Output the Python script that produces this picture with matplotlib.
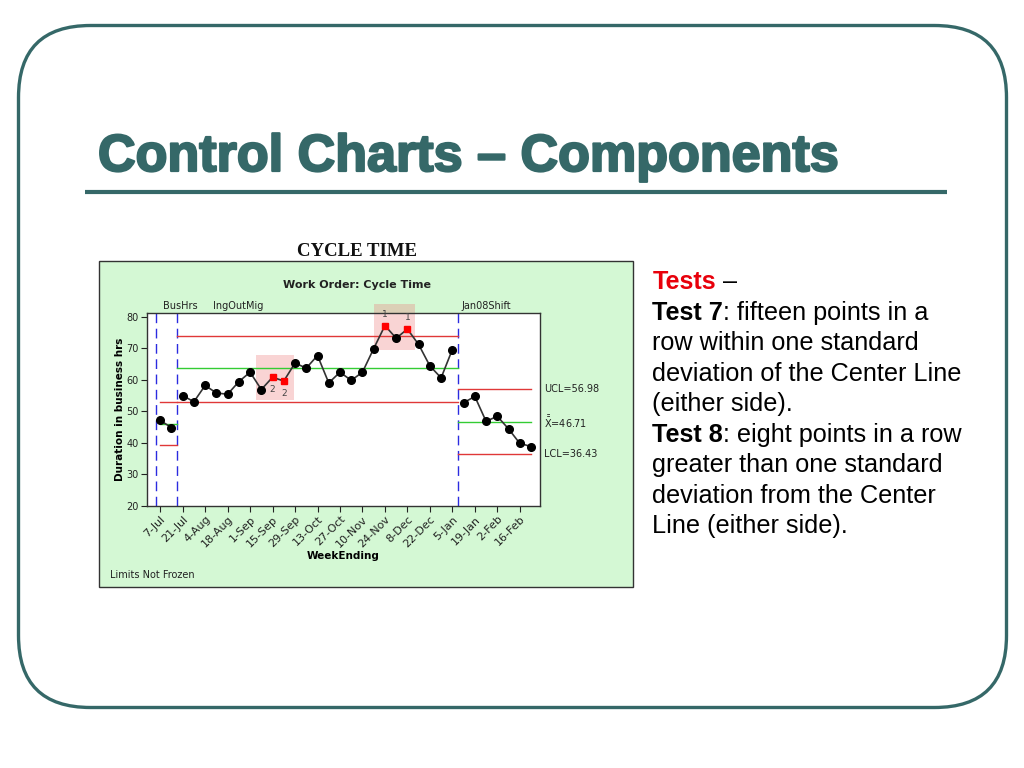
import matplotlib
matplotlib.use('Agg')
import matplotlib.pyplot as plt
import matplotlib.patheffects as pe
from matplotlib.patches import FancyBboxPatch, Rectangle

# ---- data ----
week_labels = ['7-Jul', '21-Jul', '4-Aug', '18-Aug', '1-Sep', '15-Sep', '29-Sep',
               '13-Oct', '27-Oct', '10-Nov', '24-Nov', '8-Dec', '22-Dec', '5-Jan',
               '19-Jan', '2-Feb', '16-Feb']
cycle_time = [47.1, 44.8, 55.0, 53.0, 58.2, 55.8, 55.4, 59.4, 62.4, 56.9, 60.8, 59.6,
              65.3, 63.7, 67.7, 59.0, 62.4, 59.8, 62.4, 69.9, 77.2, 73.2, 76.1, 71.2,
              64.4, 60.6, 69.6, 52.7, 54.7, 46.8, 48.4, 44.4, 39.8, 38.8]
# points flagged by a test, and the test number
flag_index = [10, 11, 20, 22]
flag_test = ['2', '2', '1', '1']

# stages: first/last point index, limits
stage_names = ['BusHrs', 'IngOutMig', 'Jan08Shift']
stage_first = [0, 2, 27]
stage_last = [1, 26, 33]
stage_ucl = [52.8, 73.8, 56.98]
stage_cl = [46.0, 63.6, 46.71]
stage_lcl = [39.2, 52.8, 36.43]

teal = '#356868'
chart_green = '#d4f8d4'

fig = plt.figure(figsize=(10.24, 7.68), dpi=100)

# background axes in pixel coordinates for the slide decoration
bg = fig.add_axes([0, 0, 1, 1])
bg.set_xlim(0, 1024)
bg.set_ylim(768, 0)
bg.axis('off')

bg.add_patch(FancyBboxPatch((18.5, 25.5), 988, 682, boxstyle='round,pad=0,rounding_size=72',
                            fill=False, ec=teal, lw=2.4))
bg.text(98, 171, 'Control Charts \u2013 Components', fontsize=37.5, fontweight='bold',
        color=teal, family='Liberation Sans', va='baseline', ha='left',
        path_effects=[pe.withStroke(linewidth=1.6, foreground=teal)])
bg.plot([85, 947], [191.5, 191.5], color=teal, lw=3, solid_capstyle='butt')

# chart image area
bg.text(357, 256.5, 'CYCLE TIME', fontsize=13.5, fontweight='bold', family='Liberation Serif',
        ha='center', va='baseline', color='#111111')
bg.add_patch(Rectangle((98.5, 260.5), 534.5, 326.5, fc=chart_green, ec='#333333', lw=1))
bg.text(357, 285, 'Work Order: Cycle Time', fontsize=8, fontweight='bold', ha='center',
        va='center', color='#222222')
bg.text(110, 575, 'Limits Not Frozen', fontsize=7, ha='left', va='center', color='#222222')

# right hand text
renderer = fig.canvas.get_renderer()
text_lines = [
    [('Tests', 'bold', '#e8000b'), (' \u2013', 'normal', 'black')],
    [('Test 7', 'bold', 'black'), (': fifteen points in a', 'normal', 'black')],
    [('row within one standard', 'normal', 'black')],
    [('deviation of the Center Line', 'normal', 'black')],
    [('(either side).', 'normal', 'black')],
    [('Test 8', 'bold', 'black'), (': eight points in a row', 'normal', 'black')],
    [('greater than one standard', 'normal', 'black')],
    [('deviation from the Center', 'normal', 'black')],
    [('Line (either side).', 'normal', 'black')],
]
y0 = 289.3
for i, parts in enumerate(text_lines):
    x = 652.5
    for s, w, c in parts:
        t = bg.text(x, y0 + i * 30.5, s, fontsize=18.2, fontweight=w, color=c,
                    family='Liberation Sans', va='baseline', ha='left')
        x += t.get_window_extent(renderer).width

# ---- the control chart ----
ax = fig.add_axes([146.7 / 1024, 1 - 505.7 / 768, 393.3 / 1024, 193 / 768])
ax.set_facecolor('white')
ax.set_zorder(2)

idx = list(range(len(cycle_time)))
ax.set_xlim(-1.2, 33.8)
ax.set_ylim(20, 81.3)

# stage boundaries
bounds = [-0.4, 1.5, 26.5]
for b in bounds:
    ax.axvline(b, color='#2b2be0', lw=1, dashes=(7, 4))

for k in range(len(stage_names)):
    x_start = bounds[k] if k > 0 else stage_first[k]
    x_end = bounds[k + 1] if k + 1 < len(bounds) else stage_last[k]
    ax.plot([x_start, x_end], [stage_ucl[k], stage_ucl[k]], color='#e03838', lw=1)
    ax.plot([x_start, x_end], [stage_lcl[k], stage_lcl[k]], color='#e03838', lw=1)
    ax.plot([x_start, x_end], [stage_cl[k], stage_cl[k]], color='#33cc33', lw=1)

# shaded test regions
ax.add_patch(Rectangle((8.5, 53.5), 3.4, 14.5, fc=(0.93, 0.45, 0.45), alpha=0.3, lw=0, zorder=1))
ax.add_patch(Rectangle((19.0, 69.6), 3.65, 14.4, fc=(0.93, 0.45, 0.45), alpha=0.3, lw=0,
                       zorder=1, clip_on=False))

# data, drawn per stage
for k in range(len(stage_names)):
    xs = idx[stage_first[k]:stage_last[k] + 1]
    ys = cycle_time[stage_first[k]:stage_last[k] + 1]
    ax.plot(xs, ys, color='#333333', lw=1.2, zorder=3)
    px = [i for i in xs if i not in flag_index]
    py = [cycle_time[i] for i in px]
    ax.plot(px, py, ls='none', marker='o', ms=5.5, mfc='black', mec='black', zorder=4)

for i, lab in zip(flag_index, flag_test):
    ax.plot(i, cycle_time[i], marker='s', ms=5, color='#ff0000', zorder=4)
    off = -9 if lab == '2' else 8
    ax.annotate(lab, xy=(i, cycle_time[i]), xytext=(0, off), textcoords='offset points',
                ha='center', va='center', fontsize=6.5, color='#444444')

# stage names above
for name, xpos in zip(stage_names, [0.25, 4.7, 26.8]):
    ax.annotate(name, xy=(xpos, 1), xycoords=('data', 'axes fraction'), xytext=(0, 1),
                textcoords='offset points', ha='left', va='bottom', fontsize=7, color='#222222')

# limit labels on the right
for lab, val in zip(['UCL=56.98', r'$\bar{\bar{\mathrm{X}}}$=46.71', 'LCL=36.43'],
                    [stage_ucl[2], stage_cl[2], stage_lcl[2]]):
    ax.annotate(lab, xy=(1, val), xycoords=('axes fraction', 'data'), xytext=(3, 0),
                textcoords='offset points', ha='left', va='center', fontsize=7, color='#222222')

ax.set_yticks([20, 30, 40, 50, 60, 70, 80])
ax.set_xticks(list(range(0, 33, 2)))
ax.set_xticklabels(week_labels, rotation=45, ha='right', rotation_mode='anchor')
ax.tick_params(axis='y', labelsize=7)
ax.tick_params(axis='x', labelsize=8)
ax.tick_params(colors='#222222', length=4, width=0.8, pad=2)
for s in ax.spines.values():
    s.set_color('#333333')
    s.set_linewidth(1)

ax.set_ylabel('Duration in business hrs', fontsize=7.5, fontweight='bold', labelpad=1)
ax.set_xlabel('WeekEnding', fontsize=7.5, fontweight='bold', labelpad=1)

fig.savefig('out.png', dpi=100)
